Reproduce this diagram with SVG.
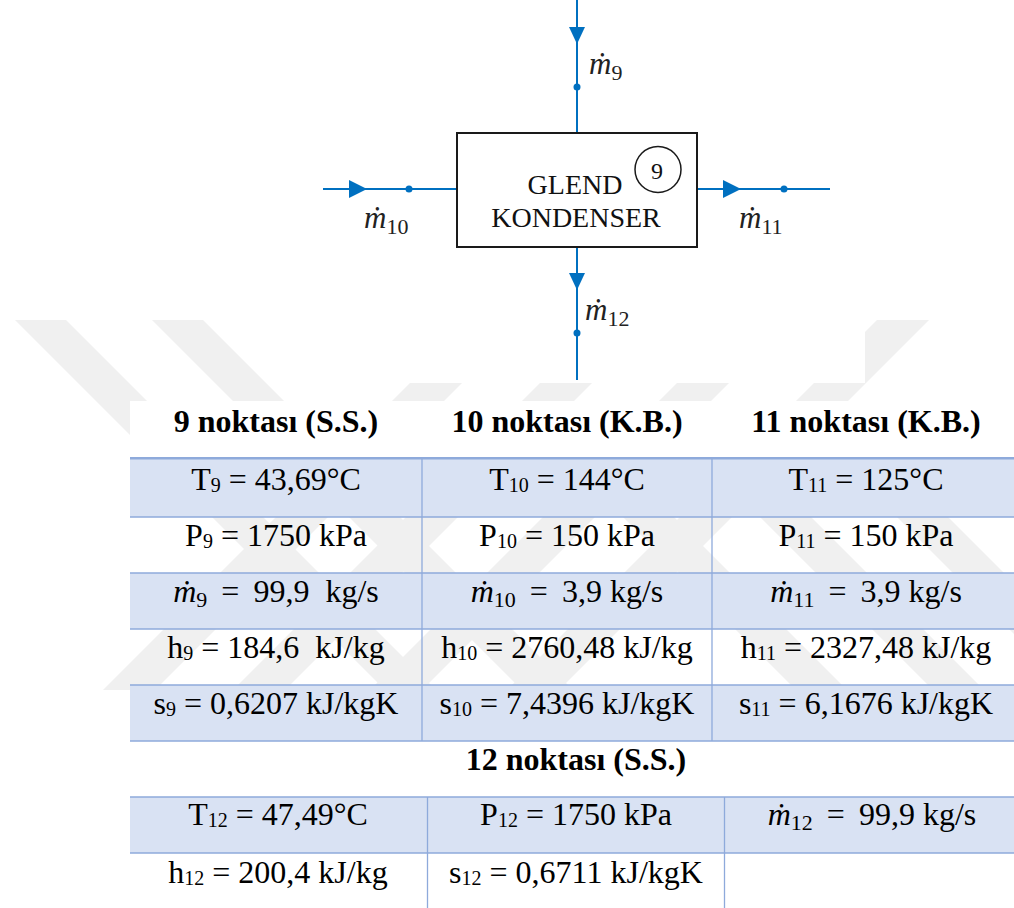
<svg xmlns="http://www.w3.org/2000/svg" width="1014" height="908" viewBox="0 0 1014 908">
<style>
.wm{fill:#f0f0f0}
.flow{stroke:#0070C0;stroke-width:2;fill:none}
.ah{fill:#0070C0}
.dot{fill:#0070C0}
.box{fill:#fff;stroke:#1a1a1a;stroke-width:2}
.tag{fill:none;stroke:#1a1a1a;stroke-width:1.5}
.bt{font-size:28px;fill:#111;text-anchor:middle}
.ml{font-size:31px;fill:#222}
.mi{font-style:italic}
.ms{font-size:22px;font-style:normal}
.c{font-size:32px;fill:#000;text-anchor:middle}
.h{font-size:32px;font-weight:bold;fill:#000;text-anchor:middle}
.s{font-size:20px}
.ss{font-size:22px}
.band{fill:#D9E2F3}
.gl{stroke:#8EAADB;stroke-width:1.3;fill:none}
.gl2{stroke:#8EAADB;stroke-width:2.4;fill:none}
</style>
<rect x="0" y="0" width="1014" height="908" fill="#fff"/>
<g id="watermark">
<polygon class="wm" points="15,320 66,320 436,690 385,690"/>
<polygon class="wm" points="152,320 203,320 573,690 522,690"/>
<polygon class="wm" points="507,401 558,401 847,690 796,690"/>
<polygon class="wm" points="644,401 695,401 984,690 933,690"/>
<polygon class="wm" points="781,401 832,401 1121,690 1070,690"/>
<polygon class="wm" points="473,320 525,320 155,690 103,690"/>
<polygon class="wm" points="603,320 655,320 285,690 233,690"/>
<polygon class="wm" points="740,320 792,320 422,690 370,690"/>
<polygon class="wm" points="877,320 929,320 559,690 507,690"/>
</g>
<rect x="300" y="0" width="565" height="383" fill="#fff"/>
<g id="connectors">
<line class="flow" x1="577" y1="0" x2="577" y2="133"/>
<polygon class="ah" points="569,27 585,27 577,44"/>
<circle class="dot" cx="577" cy="87" r="3.5"/>
<line class="flow" x1="323" y1="189" x2="457" y2="189"/>
<polygon class="ah" points="349,180 349,198 367,189"/>
<circle class="dot" cx="409" cy="189" r="3.5"/>
<line class="flow" x1="697" y1="189" x2="830" y2="189"/>
<polygon class="ah" points="723,180 723,198 741,189"/>
<circle class="dot" cx="784" cy="189" r="3.5"/>
<line class="flow" x1="577" y1="248" x2="577" y2="380"/>
<polygon class="ah" points="569,273 585,273 577,290"/>
<circle class="dot" cx="577" cy="333" r="3.5"/>
</g>
<g id="labels" font-family="'Liberation Serif', 'Times New Roman', 'DejaVu Serif', serif">
<text class="ml" x="589" y="74"><tspan class="mi">ṁ</tspan><tspan class="ms" dy="6">9</tspan></text>
<text class="ml" x="364" y="228"><tspan class="mi">ṁ</tspan><tspan class="ms" dy="6">10</tspan></text>
<text class="ml" x="739" y="228"><tspan class="mi">ṁ</tspan><tspan class="ms" dy="6">11</tspan></text>
<text class="ml" x="585" y="320"><tspan class="mi">ṁ</tspan><tspan class="ms" dy="6">12</tspan></text>
</g>
<g id="glend-kondenser" font-family="'Liberation Serif', 'Times New Roman', 'DejaVu Serif', serif">
<rect class="box" x="457" y="133" width="240" height="114"/>
<text class="bt" x="575" y="194">GLEND</text>
<text class="bt" x="576" y="227">KONDENSER</text>
<g id="tag-9">
<circle class="tag" cx="658" cy="169.5" r="23"/>
<text class="bt" x="657" y="179" style="font-size:24px">9</text>
</g>
</g>
<g id="table1" font-family="'Liberation Serif', 'Times New Roman', 'DejaVu Serif', serif">
<rect x="130" y="401" width="884" height="57" fill="#fff"/>
<rect class="band" x="130" y="459" width="884" height="58"/>
<rect class="band" x="130" y="573" width="884" height="56"/>
<rect class="band" x="130" y="685" width="884" height="56"/>
<line class="gl2" x1="130" y1="458.3" x2="1014" y2="458.3"/>
<line class="gl" x1="130" y1="517" x2="1014" y2="517"/>
<line class="gl" x1="130" y1="573" x2="1014" y2="573"/>
<line class="gl" x1="130" y1="629" x2="1014" y2="629"/>
<line class="gl" x1="130" y1="685" x2="1014" y2="685"/>
<line class="gl" x1="130" y1="741" x2="1014" y2="741"/>
<line class="gl" x1="422" y1="459" x2="422" y2="741"/>
<line class="gl" x1="712" y1="459" x2="712" y2="741"/>
<text class="h" x="276" y="432">9 noktası (S.S.)</text>
<text class="h" x="567" y="432">10 noktası (K.B.)</text>
<text class="h" x="866" y="432">11 noktası (K.B.)</text>
<text class="c" x="276" y="490">T<tspan class="s" dy="2">9</tspan><tspan dy="-2"> = 43,69°C</tspan></text>
<text class="c" x="567" y="490">T<tspan class="s" dy="2">10</tspan><tspan dy="-2"> = 144°C</tspan></text>
<text class="c" x="866" y="490">T<tspan class="s" dy="2">11</tspan><tspan dy="-2"> = 125°C</tspan></text>
<text class="c" x="276" y="546">P<tspan class="s" dy="2">9</tspan><tspan dy="-2"> = 1750 kPa</tspan></text>
<text class="c" x="567" y="546">P<tspan class="s" dy="2">10</tspan><tspan dy="-2"> = 150 kPa</tspan></text>
<text class="c" x="866" y="546">P<tspan class="s" dy="2">11</tspan><tspan dy="-2"> = 150 kPa</tspan></text>
<text class="c" x="276" y="602" xml:space="preserve"><tspan class="mi">ṁ</tspan><tspan class="ss" dy="5">9</tspan><tspan dy="-5" dx="6"> =</tspan><tspan dx="6"> 99,9  kg/s</tspan></text>
<text class="c" x="567" y="602" xml:space="preserve"><tspan class="mi">ṁ</tspan><tspan class="ss" dy="5">10</tspan><tspan dy="-5" dx="6"> =</tspan><tspan dx="6"> 3,9 kg/s</tspan></text>
<text class="c" x="866" y="602" xml:space="preserve"><tspan class="mi">ṁ</tspan><tspan class="ss" dy="5">11</tspan><tspan dy="-5" dx="6"> =</tspan><tspan dx="6"> 3,9 kg/s</tspan></text>
<text class="c" x="276" y="658" xml:space="preserve">h<tspan class="s" dy="2">9</tspan><tspan dy="-2"> = 184,6  kJ/kg</tspan></text>
<text class="c" x="567" y="658">h<tspan class="s" dy="2">10</tspan><tspan dy="-2"> = 2760,48 kJ/kg</tspan></text>
<text class="c" x="866" y="658">h<tspan class="s" dy="2">11</tspan><tspan dy="-2"> = 2327,48 kJ/kg</tspan></text>
<text class="c" x="276" y="714">s<tspan class="s" dy="2">9</tspan><tspan dy="-2"> = 0,6207 kJ/kgK</tspan></text>
<text class="c" x="567" y="714">s<tspan class="s" dy="2">10</tspan><tspan dy="-2"> = 7,4396 kJ/kgK</tspan></text>
<text class="c" x="866" y="714">s<tspan class="s" dy="2">11</tspan><tspan dy="-2"> = 6,1676 kJ/kgK</tspan></text>
</g>
<text class="h" x="576" y="770" font-family="'Liberation Serif', 'Times New Roman', 'DejaVu Serif', serif">12 noktası (S.S.)</text>
<g id="table2" font-family="'Liberation Serif', 'Times New Roman', 'DejaVu Serif', serif">
<rect class="band" x="130" y="797" width="884" height="56"/>
<line class="gl" x1="130" y1="797" x2="1014" y2="797"/>
<line class="gl" x1="130" y1="853" x2="1014" y2="853"/>
<line class="gl" x1="427.5" y1="797" x2="427.5" y2="908"/>
<line class="gl" x1="724.5" y1="797" x2="724.5" y2="908"/>
<text class="c" x="278" y="825">T<tspan class="s" dy="2">12</tspan><tspan dy="-2"> = 47,49°C</tspan></text>
<text class="c" x="576" y="825">P<tspan class="s" dy="2">12</tspan><tspan dy="-2"> = 1750 kPa</tspan></text>
<text class="c" x="872" y="825" xml:space="preserve"><tspan class="mi">ṁ</tspan><tspan class="ss" dy="5">12</tspan><tspan dy="-5" dx="6"> =</tspan><tspan dx="6"> 99,9 kg/s</tspan></text>
<text class="c" x="278" y="883">h<tspan class="s" dy="2">12</tspan><tspan dy="-2"> = 200,4 kJ/kg</tspan></text>
<text class="c" x="576" y="883">s<tspan class="s" dy="2">12</tspan><tspan dy="-2"> = 0,6711 kJ/kgK</tspan></text>
</g>
</svg>
